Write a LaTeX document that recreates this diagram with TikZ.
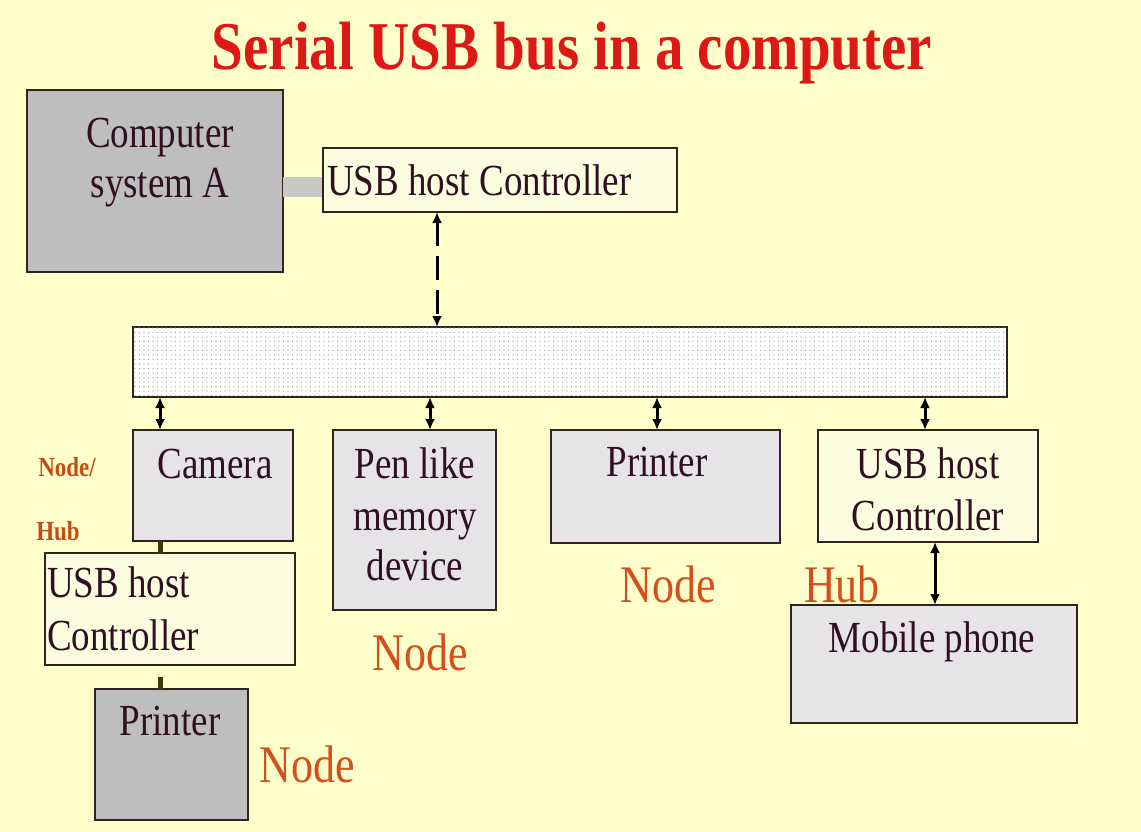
\documentclass[tikz,border=0pt]{standalone}
\usepackage{fontspec}
\setmainfont{Liberation Serif}
\usetikzlibrary{arrows.meta,patterns.meta}
\definecolor{bg}{RGB}{255,255,204}
\definecolor{edge}{RGB}{50,35,30}
\definecolor{ink}{RGB}{48,16,32}
\definecolor{lbl}{RGB}{214,78,28}
\definecolor{lblb}{RGB}{200,74,20}
\definecolor{ttl}{RGB}{222,24,20}
\definecolor{speck}{RGB}{230,228,230}
\definecolor{ctrl}{RGB}{252,252,224}
\definecolor{dgray}{RGB}{190,190,190}
\definecolor{bargray}{RGB}{200,200,200}
\definecolor{stub}{RGB}{58,58,16}
\newcommand{\sy}[1]{\scalebox{1}[1.2]{#1}}
\begin{document}
\begin{tikzpicture}[x=1pt,y=-1pt,
  box/.style={draw=edge,line width=2pt,inner sep=0pt,outer sep=0pt,anchor=north west},
  txt/.style={text=ink,inner sep=0pt,anchor=base,font=\fontsize{37}{43}\selectfont},
  txtl/.style={txt,anchor=base west},
  lab/.style={text=lbl,inner sep=0pt,anchor=base,font=\fontsize{44}{50}\selectfont},
  labb/.style={text=lblb,inner sep=0pt,anchor=base,font=\fontsize{23}{27}\selectfont\bfseries},
  dbl/.style={draw=black,line width=3pt,{Latex[length=11pt,width=10pt]}-{Latex[length=11pt,width=10pt]}},
  stubline/.style={draw=stub,line width=5pt}]
\useasboundingbox (0,0) rectangle (1141,832);
\fill[bg] (0,0) rectangle (1141,832);
% title
\node[inner sep=0pt,anchor=base,text=ttl,font=\fontsize{57}{60}\selectfont\bfseries] (title) at (572,70) {\sy{Serial USB bus in a computer}};
% boxes
\node[box,fill=dgray,minimum width=256,minimum height=182] (comp) at (27,90) {};
\node[fill=bargray,inner sep=0pt,minimum width=40,minimum height=20,anchor=west] (bar) at (283,187) {};
\node[box,fill=ctrl,minimum width=354,minimum height=64] (tc) at (323,148) {};
\node[box,fill=white,minimum width=874,minimum height=70,postaction={pattern={Dots[distance=4.5pt,radius=0.7pt]},pattern color=gray!75}] (bus) at (133,327) {};
\node[box,fill=speck,minimum width=160,minimum height=111] (cam) at (133,430) {};
\node[box,fill=ctrl,minimum width=250,minimum height=112] (lc) at (45,553) {};
\node[box,fill=dgray,minimum width=153,minimum height=131] (pl) at (95,689) {};
\node[box,fill=speck,minimum width=163,minimum height=180] (pen) at (333,430) {};
\node[box,fill=speck,minimum width=229,minimum height=113] (pr) at (551,430) {};
\node[box,fill=ctrl,minimum width=220,minimum height=112] (rc) at (818,430) {};
\node[box,fill=speck,minimum width=286,minimum height=118] (mob) at (791,605) {};
% texts
\node[txt] (t1) at (160,148) {\sy{Computer}};
\node[txt] (t2) at (160,197) {\sy{system A}};
\node[txtl] (t3) at (327,195) {\sy{USB host Controller}};
\node[txt] (t4) at (215,478) {\sy{Camera}};
\node[txtl] (t5) at (47,597) {\sy{USB host}};
\node[txtl] (t6) at (47,650) {\sy{Controller}};
\node[txt] (t7) at (170,735) {\sy{Printer}};
\node[txt] (t8) at (415,478) {\sy{Pen like}};
\node[txt] (t9) at (415,530) {\sy{memory}};
\node[txt] (t10) at (415,580) {\sy{device}};
\node[txt] (t11) at (657,476) {\sy{Printer}};
\node[txt] (t12) at (928,478) {\sy{USB host}};
\node[txt] (t13) at (928,530) {\sy{Controller}};
\node[txt] (t14) at (932,652) {\sy{Mobile phone}};
% labels
\node[labb] (l1) at (67,476) {\sy{Node/}};
\node[labb] (l2) at (58,540) {\sy{Hub}};
\node[lab] (l3) at (307,782) {\sy{Node}};
\node[lab] (l4) at (420,670) {\sy{Node}};
\node[lab] (l5) at (668,602) {\sy{Node}};
\node[lab] (l6) at (842,602) {\sy{Hub}};
% connector x positions
\coordinate (xd) at (437,0);
\coordinate (x1) at (160,0);
\coordinate (x2) at (430,0);
\coordinate (x3) at (657,0);
\coordinate (x4) at (925,0);
\coordinate (x5) at (935,0);
\coordinate (s2) at (160,677);
% connectors
\draw[dbl,dash pattern=on 24pt off 10pt] (tc.south -| xd) -- (bus.north -| xd);
\draw[dbl] (bus.south -| x1) -- (cam.north -| x1);
\draw[dbl] (bus.south -| x2) -- (pen.north -| x2);
\draw[dbl] (bus.south -| x3) -- (pr.north -| x3);
\draw[dbl] (bus.south -| x4) -- (rc.north -| x4);
\draw[dbl] (rc.south -| x5) -- (mob.north -| x5);
\draw[stubline] (cam.south -| x1) -- (lc.north -| x1);
\draw[stubline] (s2) -- (pl.north -| s2);
\end{tikzpicture}
\end{document}
